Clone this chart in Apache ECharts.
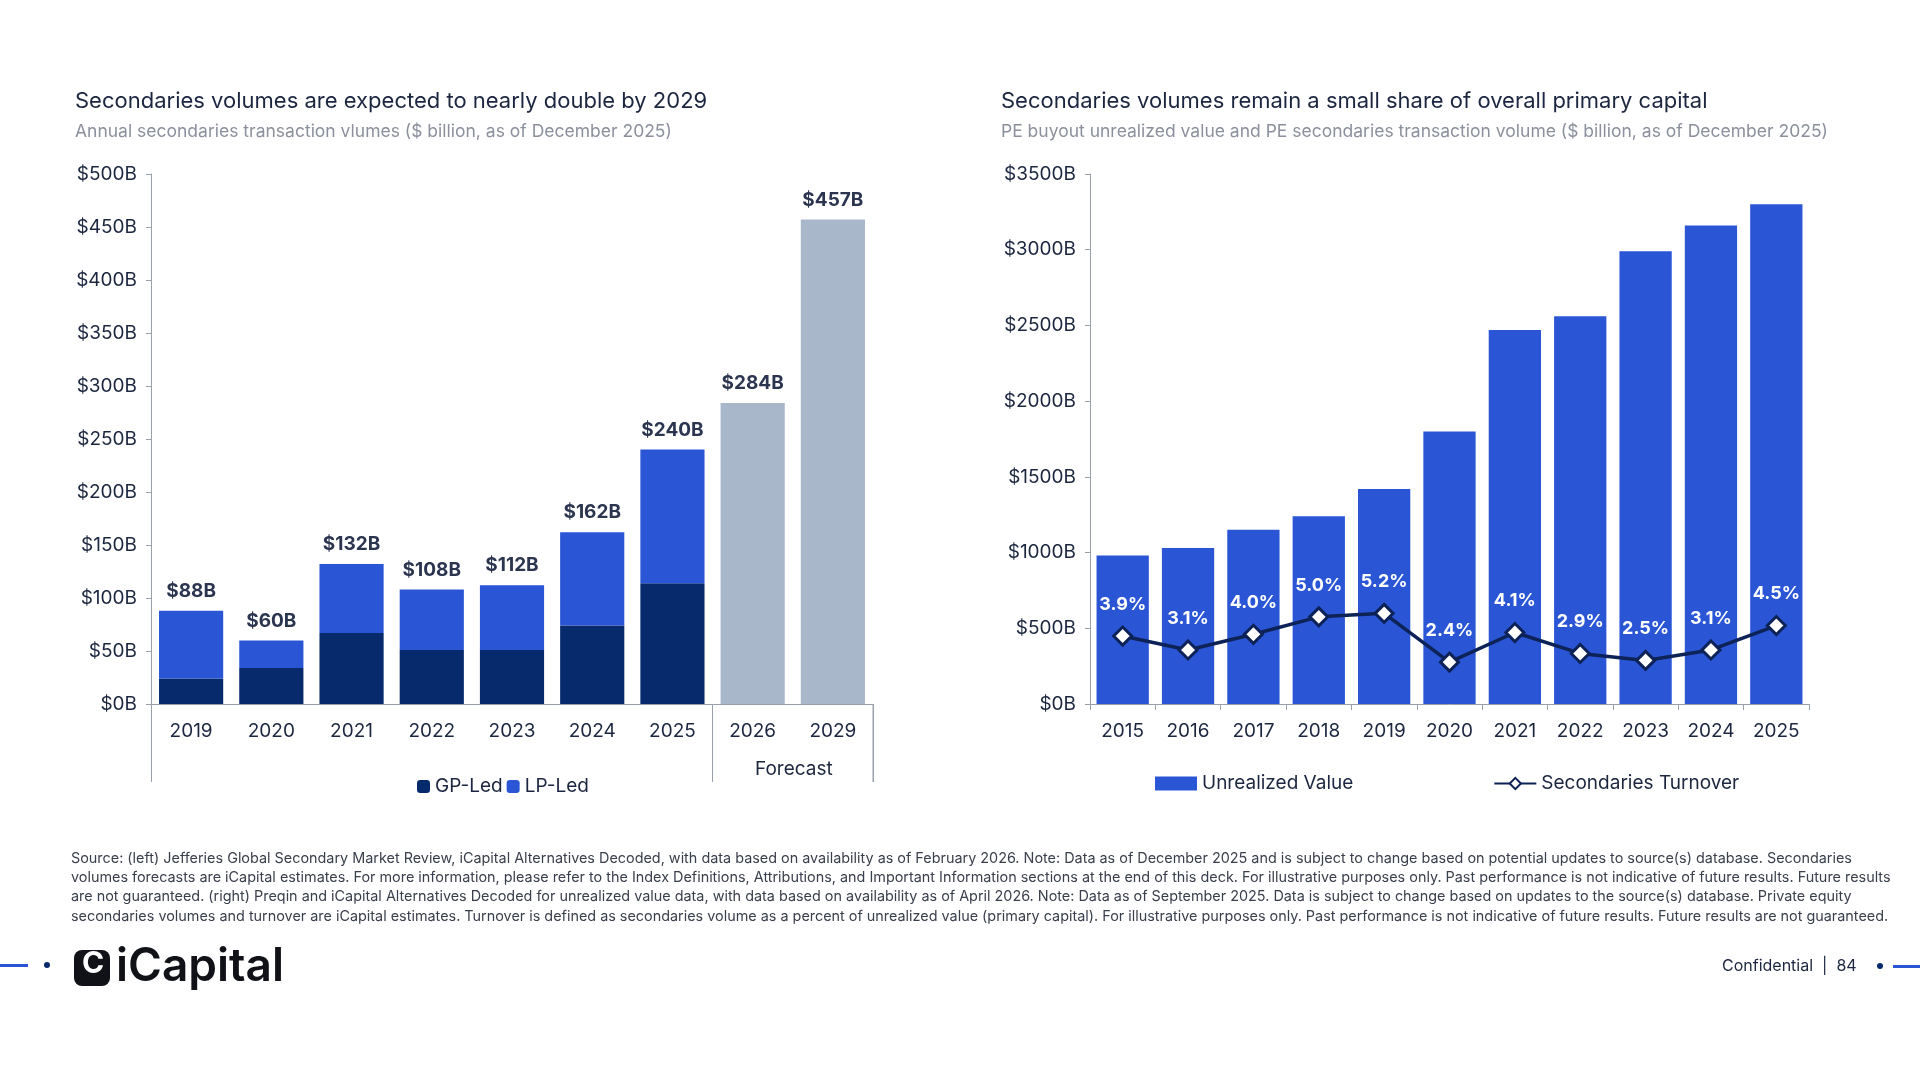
<!DOCTYPE html>
<html><head><meta charset="utf-8">
<script src="https://cdn.jsdelivr.net/npm/echarts@6/dist/echarts.min.js"></script>
<style>html,body{margin:0;padding:0;background:#fff}#main{width:1920px;height:1080px}</style>
</head><body><div id="main"></div>
<script>
// left chart data ($B)
const leftYears = ['2019', '2020', '2021', '2022', '2023', '2024', '2025', '2026', '2029'];
const gpLed = [24, 34, 67, 51, 51, 74, 114, null, null];
const totals = [88, 60, 132, 108, 112, 162, 240, null, null];
const forecast = [null, null, null, null, null, null, null, 284, 457];
const lpLed = totals.map((t, i) => t == null ? null : t - gpLed[i]);

// right chart data
const rightYears = ['2015', '2016', '2017', '2018', '2019', '2020', '2021', '2022', '2023', '2024', '2025'];
const unrealized = [980, 1030, 1150, 1240, 1420, 1800, 2470, 2560, 2990, 3160, 3300];
const turnover = [3.9, 3.1, 4.0, 5.0, 5.2, 2.4, 4.1, 2.9, 2.5, 3.1, 4.5];

const footLines = [
  'Source: (left) Jefferies Global Secondary Market Review, iCapital Alternatives Decoded, with data based on availability as of February 2026. Note: Data as of December 2025 and is subject to change based on potential updates to source(s) database. Secondaries',
  'volumes forecasts are iCapital estimates. For more information, please refer to the Index Definitions, Attributions, and Important Information sections at the end of this deck. For illustrative purposes only. Past performance is not indicative of future results. Future results',
  'are not guaranteed. (right) Preqin and iCapital Alternatives Decoded for unrealized value data, with data based on availability as of April 2026. Note: Data as of September 2025. Data is subject to change based on updates to the source(s) database. Private equity',
  'secondaries volumes and turnover are iCapital estimates. Turnover is defined as secondaries volume as a percent of unrealized value (primary capital). For illustrative purposes only. Past performance is not indicative of future results. Future results are not guaranteed.'
];

const FONT = 'Inter, "Noto Sans", sans-serif';
const DARK = '#1c2640';
const GREY = '#8b909c';
const BLUE = '#2a56d6';
const NAVY = '#062a6c';
const FC = '#a9b7ca';

const chart = echarts.init(document.getElementById('main'));
const axisLabel = { color: DARK, fontSize: 19, fontFamily: FONT };
const yLabel = Object.assign({}, axisLabel, { formatter: v => '$' + v + 'B', margin: 14 });
const totLabel = { show: true, position: 'top', color: '#2c3550', fontWeight: 'bold', fontSize: 19, fontFamily: FONT, distance: 10 };

chart.setOption({
  animation: false,
  textStyle: { fontFamily: FONT },
  title: [
    { text: 'Secondaries volumes are expected to nearly double by 2029', left: 70, top: 85,
      textStyle: { color: DARK, fontSize: 22, fontWeight: 'normal' },
      subtext: 'Annual secondaries transaction vlumes ($ billion, as of December 2025)', itemGap: 11,
      subtextStyle: { color: GREY, fontSize: 17.5 } },
    { text: 'Secondaries volumes remain a small share of overall primary capital', left: 996, top: 85,
      textStyle: { color: DARK, fontSize: 22, fontWeight: 'normal' },
      subtext: 'PE buyout unrealized value and PE secondaries transaction volume ($ billion, as of December 2025)', itemGap: 11,
      subtextStyle: { color: GREY, fontSize: 17.5 } }
  ],
  legend: [
    { data: ['GP-Led', 'LP-Led'], left: 412, top: 772, itemWidth: 13, itemHeight: 13, itemGap: 4,
      textStyle: { color: DARK, fontSize: 19 } },
    { data: [{ name: 'Unrealized Value', icon: 'rect' }, 'Secondaries Turnover'], left: 1150, top: 769,
      itemWidth: 42, itemHeight: 14, itemGap: 140, textStyle: { color: DARK, fontSize: 19 } }
  ],
  grid: [
    { left: 151, right: 1920 - 873, top: 174, bottom: 1080 - 704 },
    { left: 1090, right: 1920 - 1809, top: 174, bottom: 1080 - 704 }
  ],
  xAxis: [
    { gridIndex: 0, type: 'category', data: leftYears, axisLabel: Object.assign({ margin: 18 }, axisLabel),
      axisLine: { lineStyle: { color: '#9aa0aa' } }, axisTick: { show: true, length: 78, lineStyle: { color: '#9aa0aa' }, interval: i => i === 0 || i === 7 } },
    { gridIndex: 1, type: 'category', data: rightYears, axisLabel: Object.assign({ margin: 18 }, axisLabel),
      axisLine: { lineStyle: { color: '#9aa0aa' } }, axisTick: { show: true, length: 6, lineStyle: { color: '#9aa0aa' } } }
  ],
  yAxis: [
    { gridIndex: 0, min: 0, max: 500, interval: 50, axisLabel: yLabel, splitLine: { show: false },
      axisLine: { show: true, lineStyle: { color: '#9aa0aa' } }, axisTick: { show: true, lineStyle: { color: '#9aa0aa' } } },
    { gridIndex: 1, min: 0, max: 3500, interval: 500, axisLabel: yLabel, splitLine: { show: false },
      axisLine: { show: true, lineStyle: { color: '#9aa0aa' } }, axisTick: { show: true, lineStyle: { color: '#9aa0aa' } } },
    { gridIndex: 1, min: 0, max: 30.4, show: false }
  ],
  series: [
    { name: 'GP-Led', type: 'bar', stack: 'l', data: gpLed, itemStyle: { color: NAVY }, barWidth: '80%' },
    { name: 'LP-Led', type: 'bar', stack: 'l', data: lpLed, itemStyle: { color: BLUE },
      label: Object.assign({}, totLabel, { formatter: p => '$' + totals[p.dataIndex] + 'B' }) },
    { name: 'Forecast', type: 'bar', stack: 'l', data: forecast, itemStyle: { color: FC },
      label: Object.assign({}, totLabel, { formatter: p => '$' + p.value + 'B' }) },
    { name: 'Unrealized Value', type: 'bar', xAxisIndex: 1, yAxisIndex: 1, data: unrealized,
      itemStyle: { color: BLUE }, barWidth: '80%' },
    { name: 'Secondaries Turnover', type: 'line', xAxisIndex: 1, yAxisIndex: 2, data: turnover, z: 5,
      symbol: 'diamond', symbolSize: 18, lineStyle: { color: '#0d2257', width: 3.5 },
      itemStyle: { color: '#fff', borderColor: '#0d2257', borderWidth: 3 },
      label: { show: true, position: 'top', distance: 12, color: '#fff', fontWeight: 'bold', fontSize: 18,
        formatter: p => p.value.toFixed(1) + '%' } }
  ],
  graphic: [
    { type: 'text', left: 755, top: 760, style: { text: 'Forecast', fill: DARK, font: '19px ' + FONT } },
    { type: 'line', shape: { x1: 873, y1: 704, x2: 873, y2: 782 }, style: { stroke: '#9aa0aa', lineWidth: 1 } },
    { type: 'text', left: 71, top: 849, style: { text: footLines.join('\n'), fill: '#3a3f4c', font: '14.4px ' + FONT, lineHeight: 19.2 } },
    { type: 'rect', shape: { x: 0, y: 964, width: 28, height: 3 }, style: { fill: BLUE } },
    { type: 'circle', shape: { cx: 47, cy: 965, r: 3 }, style: { fill: NAVY } },
    { type: 'rect', shape: { x: 74, y: 950, width: 36, height: 36, r: 8 }, style: { fill: '#101218' } },
    { type: 'text', left: 82, top: 949, style: { text: 'C', fill: '#fff', font: 'bold 30px ' + FONT } },
    { type: 'text', left: 116, top: 944, style: { text: 'iCapital', fill: '#101218', font: '600 46px ' + FONT } },
    { type: 'text', left: 1722, top: 958, style: { text: 'Confidential  |  84', fill: DARK, font: '16px ' + FONT } },
    { type: 'circle', shape: { cx: 1880, cy: 966, r: 3 }, style: { fill: NAVY } },
    { type: 'rect', shape: { x: 1893, y: 965, width: 27, height: 3 }, style: { fill: BLUE } }
  ]
});
</script></body></html>
